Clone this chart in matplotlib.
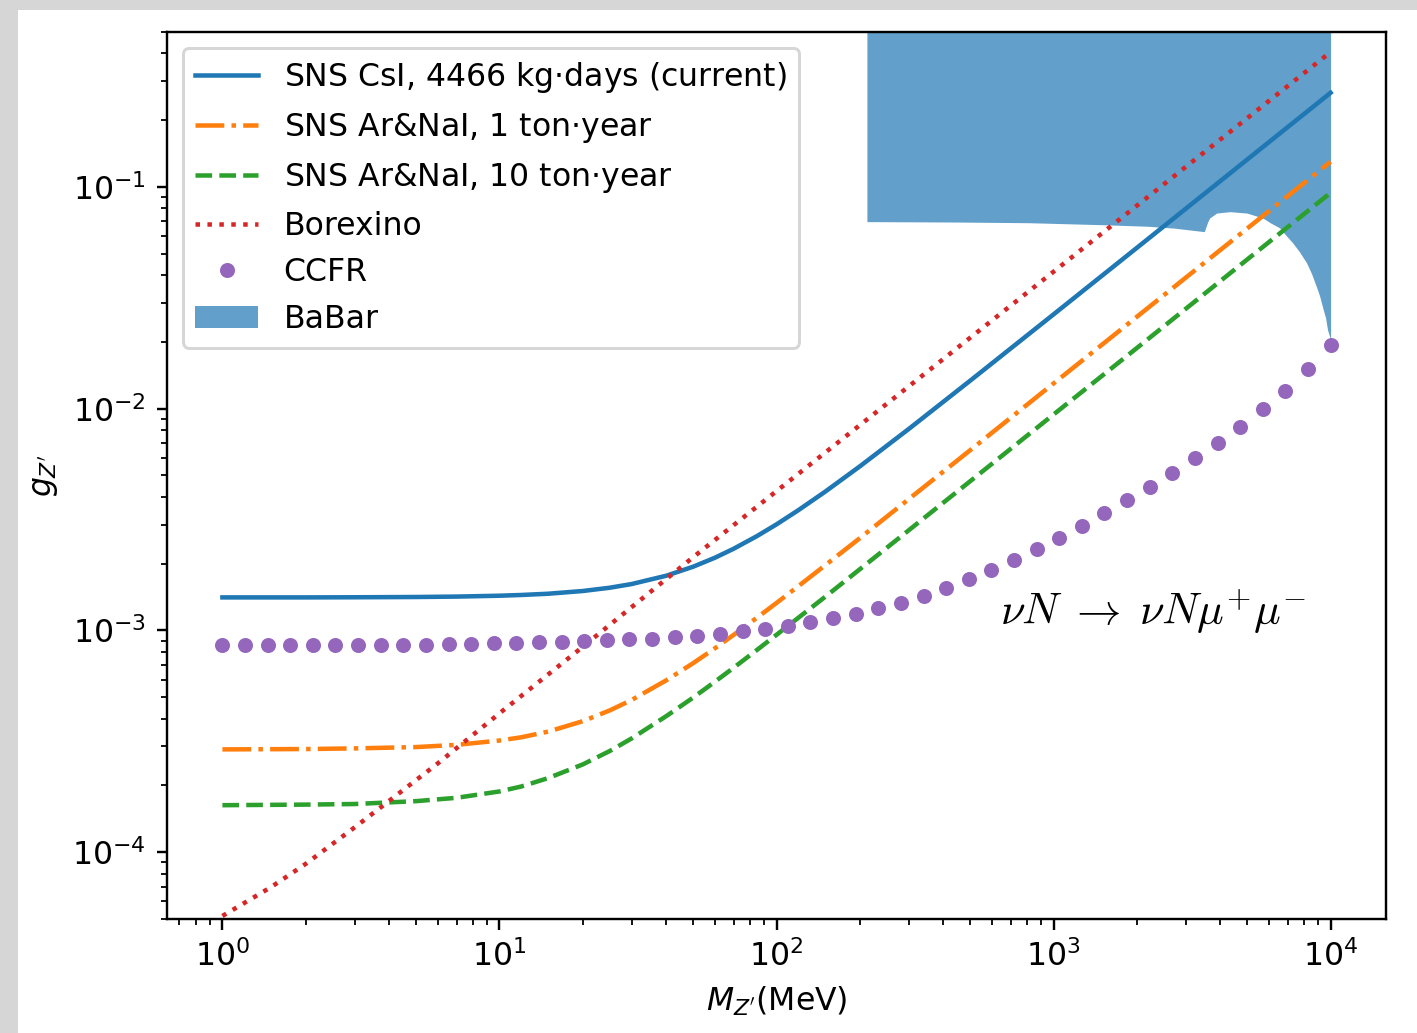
import matplotlib
matplotlib.use("Agg")
import matplotlib.pyplot as plt
import numpy as np
from matplotlib.patches import Rectangle

plt.rcParams["font.size"] = 10.5

# Mass grid (MeV) for the SNS projections
mass = [1, 2, 3, 5, 7, 10, 12, 15, 20, 25, 30, 40, 50, 60, 70, 85, 100, 120,
        150, 200, 300, 500, 1000, 2000, 5000, 10000]

# SNS CsI, 4466 kg-days
g_csi = [1.410e-3, 1.410e-3, 1.412e-3, 1.416e-3, 1.422e-3, 1.435e-3, 1.446e-3,
         1.465e-3, 1.507e-3, 1.559e-3, 1.620e-3, 1.766e-3, 1.939e-3, 2.130e-3,
         2.336e-3, 2.665e-3, 3.010e-3, 3.490e-3, 4.230e-3, 5.500e-3, 8.100e-3,
         1.338e-2, 2.664e-2, 5.320e-2, 0.133, 0.266]

# SNS Ar&NaI, 1 ton-year
g_ar1 = [2.91e-4, 2.92e-4, 2.94e-4, 2.98e-4, 3.05e-4, 3.19e-4, 3.30e-4,
         3.50e-4, 3.90e-4, 4.36e-4, 4.86e-4, 5.96e-4, 7.12e-4, 8.32e-4,
         9.55e-4, 1.142e-3, 1.331e-3, 1.586e-3, 1.97e-3, 2.61e-3, 3.91e-3,
         6.50e-3, 1.30e-2, 2.60e-2, 6.50e-2, 0.130]

# SNS Ar&NaI, 10 ton-year
g_ar10 = [1.63e-4, 1.64e-4, 1.65e-4, 1.70e-4, 1.76e-4, 1.88e-4, 1.98e-4,
          2.16e-4, 2.49e-4, 2.86e-4, 3.26e-4, 4.11e-4, 4.98e-4, 5.88e-4,
          6.79e-4, 8.17e-4, 9.56e-4, 1.142e-3, 1.42e-3, 1.89e-3, 2.83e-3,
          4.71e-3, 9.42e-3, 1.88e-2, 4.71e-2, 9.42e-2]

# Borexino
mass_bx = [1, 1.5, 2, 3, 4, 6, 10, 20, 50, 100, 1000, 10000]
g_bx = [5.16e-5, 6.97e-5, 8.87e-5, 1.294e-4, 1.706e-4, 2.52e-4, 4.23e-4,
        8.45e-4, 2.14e-3, 4.25e-3, 4.15e-2, 0.406]

# CCFR (50 points, log-spaced from 1 MeV to 10 GeV)
mass_ccfr = np.logspace(0, 4, 50)
g_ccfr = [8.62e-4] * 10 + [
    8.68e-4, 8.71e-4, 8.74e-4, 8.80e-4, 8.86e-4, 8.90e-4, 8.99e-4, 9.04e-4,
    9.11e-4, 9.20e-4, 9.37e-4, 9.49e-4, 9.66e-4, 9.90e-4, 1.018e-3, 1.050e-3,
    1.090e-3, 1.133e-3, 1.187e-3, 1.257e-3, 1.337e-3, 1.438e-3, 1.553e-3,
    1.706e-3, 1.883e-3, 2.088e-3, 2.340e-3, 2.623e-3, 2.972e-3, 3.400e-3,
    3.891e-3, 4.452e-3, 5.148e-3, 6.015e-3, 7.028e-3, 8.295e-3, 1.000e-2,
    1.205e-2, 1.514e-2, 1.942e-2]

# BaBar lower edge of excluded region
mass_babar = [212, 450, 820, 1500, 2200, 2740, 3500, 3600, 3660, 3880, 4330,
              4980, 5690, 6080, 6550, 6880, 7300, 7730, 8190, 8540, 8890,
              9125, 9350, 9590, 9750, 10000]
g_babar = [0.0698, 0.0695, 0.0690, 0.0676, 0.0665, 0.0652, 0.0629, 0.0695,
           0.0725, 0.0763, 0.0774, 0.0763, 0.0725, 0.0688, 0.0654, 0.0608,
           0.0560, 0.0509, 0.0455, 0.0406, 0.0355, 0.0323, 0.0288, 0.0257,
           0.0227, 0.0205]

fig = plt.figure(figsize=(1417 / 216, 1033 / 216), dpi=216, facecolor="#d6d6d6")
fig.add_artist(Rectangle((18 / 1417, 0), 1, 1023 / 1033, transform=fig.transFigure,
                         facecolor="white", edgecolor="none", zorder=-10))
ax = fig.add_axes([167 / 1417, 114 / 1033, 1219 / 1417, 887 / 1033])

ax.plot(mass, g_csi, "-", color="C0", label="SNS CsI, 4466 kg$\\cdot$days (current)")
ax.plot(mass, g_ar1, "-.", color="C1", label="SNS Ar&NaI, 1 ton$\\cdot$year")
ax.plot(mass, g_ar10, "--", color="C2", label="SNS Ar&NaI, 10 ton$\\cdot$year")
ax.plot(mass_bx, g_bx, ":", color="C3", label="Borexino")
ax.plot(mass_ccfr, g_ccfr, "o", color="C4", ms=4, label="CCFR")
ax.fill_between(mass_babar, g_babar, 1.0, color="C0", alpha=0.7, lw=0,
                label="BaBar")

ax.set_xscale("log")
ax.set_yscale("log")
ax.set_xlim(10 ** -0.2, 10 ** 4.2)
ax.set_ylim(5e-5, 0.5)
ax.set_xlabel("$M_{Z'}$(MeV)")
ax.set_ylabel("$g_{Z'}$")

ax.text(640, 1.06e-3, r"$\nu N \;\rightarrow\; \nu N \mu^{+} \mu^{-}$",
        fontsize=14.8, math_fontfamily="cm", ha="left", va="baseline")

ax.legend(loc="upper left")

fig.savefig("out.png", dpi=216)
